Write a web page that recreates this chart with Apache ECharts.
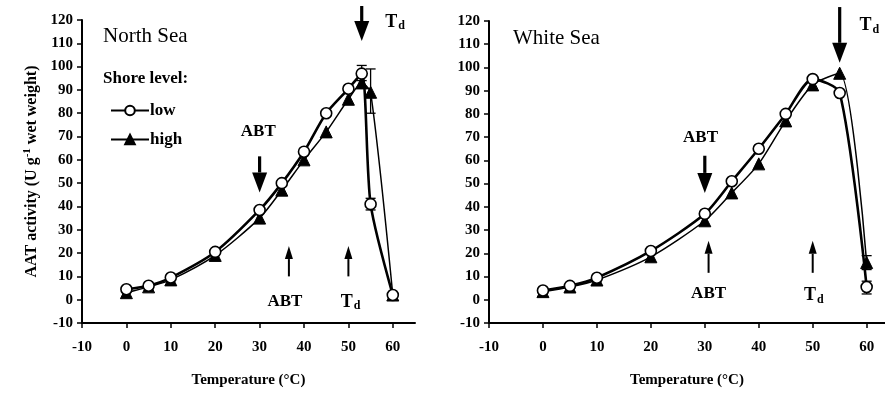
<!DOCTYPE html>
<html>
<head>
<meta charset="utf-8">
<script src="https://cdn.jsdelivr.net/npm/echarts@6/dist/echarts.min.js"></script>
<style>
  html, body { margin: 0; padding: 0; background: #fff; }
  #chart { width: 885px; height: 393px; }
</style>
</head>
<body>
<div id="chart"></div>
<script>
// 温度点 (°C)
var tempsNorth = [0, 5, 10, 20, 30, 35, 40, 45, 50, 53, 55, 60];
var tempsWhite = [0, 5, 10, 20, 30, 35, 40, 45, 50, 55, 60];
// AAT activity, U g-1 wet weight
var northLow  = [4.5, 6, 9.5, 20.5, 38.5, 50, 63.5, 80, 90.5, 97, 41, 2];
var northHigh = [3, 5.5, 8.5, 19, 35, 47, 60, 72, 86, 93, 89, 2];
var whiteLow  = [4, 6, 9.5, 21, 37, 51, 65, 80, 95, 89, 5.5];
var whiteHigh = [3.5, 5.5, 8.5, 18.5, 34, 46, 58.5, 77, 92.5, 97.5, 16];
// error bars [x, low, high]
var northErr = [[53, 94, 100.5], [55, 80, 99], [55, 38.5, 43.5]];
var whiteErr = [[60, 2.5, 8], [60, 13, 19]];
// arrows [x, fromY, toY, big?]
var northArrows = [[30, 61.5, 46, 1], [53, 126, 111, 1], [36.6, 10, 23, 0], [50, 10, 23, 0]];
var whiteArrows = [[30, 62, 46, 1], [55, 126, 102, 1], [30.7, 11.6, 25.4, 0], [50, 11.6, 25.4, 0]];
// labels [x, y, text]
var northLabels = [[29.7, 72, 'ABT'], [60.5, 119, 'Td'], [35.7, -1, 'ABT'], [50.5, -1, 'Td']];
var whiteLabels = [[29.2, 70, 'ABT'], [60.5, 118, 'Td'], [30.7, 2.6, 'ABT'], [50.2, 1.7, 'Td']];

var FONT = '"Liberation Serif", "Times New Roman", serif';
var chart = echarts.init(document.getElementById('chart'));

function pairs(xs, ys) {
  return xs.map(function (x, i) { return [x, ys[i]]; });
}

function xAxisOpt(idx, max) {
  return {
    gridIndex: idx, type: 'value', min: -10, max: max, interval: 10,
    name: 'Temperature (°C)', nameLocation: 'middle', nameGap: 50,
    nameTextStyle: { fontFamily: FONT, fontWeight: 'bold', fontSize: 15, color: '#000' },
    axisLine: { onZero: false, lineStyle: { color: '#000', width: 2 } },
    axisTick: { show: true, length: 5, lineStyle: { color: '#000', width: 1.5 } },
    axisLabel: { showMaxLabel: false, margin: 17, fontFamily: FONT, fontWeight: 'bold', fontSize: 15, color: '#000' },
    splitLine: { show: false }
  };
}

function yAxisOpt(idx, withName) {
  return {
    gridIndex: idx, type: 'value', min: -10, max: 120, interval: 10,
    name: withName ? '{n|AAT activity (U g}{s|-1}{n| wet weight)}' : '',
    nameLocation: 'middle', nameRotate: 90, nameGap: 40,
    nameTextStyle: {
      rich: {
        n: { fontFamily: FONT, fontWeight: 'bold', fontSize: 16, color: '#000' },
        s: { fontFamily: FONT, fontWeight: 'bold', fontSize: 11, color: '#000', verticalAlign: 'top', padding: [0, 0, 9, 0] }
      }
    },
    axisLine: { onZero: false, lineStyle: { color: '#000', width: 2 } },
    axisTick: { show: true, length: 5, lineStyle: { color: '#000', width: 1.5 } },
    axisLabel: { margin: 9, fontFamily: FONT, fontWeight: 'bold', fontSize: 15, color: '#000' },
    splitLine: { show: false }
  };
}

function lowSeries(idx, data) {
  return {
    name: 'low', type: 'line', xAxisIndex: idx, yAxisIndex: idx, data: data,
    smooth: 0.25, z: 4,
    symbol: 'circle', symbolSize: 11,
    lineStyle: { color: '#000', width: 2.6 },
    itemStyle: { color: '#fff', borderColor: '#000', borderWidth: 1.6 }
  };
}

function highSeries(idx, data) {
  return {
    name: 'high', type: 'line', xAxisIndex: idx, yAxisIndex: idx, data: data,
    smooth: 0.25, z: 3,
    symbol: 'triangle', symbolSize: 12,
    lineStyle: { color: '#000', width: 1.5 },
    itemStyle: { color: '#000', borderColor: '#000', borderWidth: 1 }
  };
}

function errSeries(idx, data) {
  return {
    type: 'custom', xAxisIndex: idx, yAxisIndex: idx, data: data, z: 2, clip: false,
    renderItem: function (params, api) {
      var p0 = api.coord([api.value(0), api.value(1)]);
      var p1 = api.coord([api.value(0), api.value(2)]);
      var w = 5;
      return {
        type: 'group',
        children: [
          { type: 'line', shape: { x1: p0[0], y1: p0[1], x2: p1[0], y2: p1[1] }, style: { stroke: '#000', lineWidth: 1.3 } },
          { type: 'line', shape: { x1: p0[0] - w, y1: p0[1], x2: p0[0] + w, y2: p0[1] }, style: { stroke: '#000', lineWidth: 1.3 } },
          { type: 'line', shape: { x1: p1[0] - w, y1: p1[1], x2: p1[0] + w, y2: p1[1] }, style: { stroke: '#000', lineWidth: 1.3 } }
        ]
      };
    }
  };
}

function arrowSeries(idx, data) {
  return {
    type: 'custom', xAxisIndex: idx, yAxisIndex: idx, data: data, z: 5, clip: false,
    renderItem: function (params, api) {
      var p0 = api.coord([api.value(0), api.value(1)]);
      var p1 = api.coord([api.value(0), api.value(2)]);
      var big = api.value(3) === 1;
      var hw = big ? 7.5 : 4;
      var hl = big ? 20 : 13;
      var sw = big ? 3.2 : 2;
      var dir = p1[1] > p0[1] ? 1 : -1;
      var base = p1[1] - dir * hl;
      return {
        type: 'group',
        children: [
          { type: 'line', shape: { x1: p0[0], y1: p0[1], x2: p0[0], y2: base }, style: { stroke: '#000', lineWidth: sw } },
          { type: 'polygon', shape: { points: [[p1[0] - hw, base], [p1[0] + hw, base], [p1[0], p1[1]]] }, style: { fill: '#000' } }
        ]
      };
    }
  };
}

function labelSeries(idx, data) {
  return {
    type: 'custom', xAxisIndex: idx, yAxisIndex: idx, data: data, z: 5, clip: false,
    renderItem: function (params, api) {
      var d = data[params.dataIndex];
      var p = api.coord([d[0], d[1]]);
      var txt = d[2] === 'Td' ? '{t|T}{d|d}' : '{a|ABT}';
      return {
        type: 'text', x: p[0], y: p[1],
        style: {
          text: txt, align: 'center', verticalAlign: 'middle',
          rich: {
            t: { fontFamily: FONT, fontWeight: 'bold', fontSize: 18, color: '#000' },
            d: { fontFamily: FONT, fontWeight: 'bold', fontSize: 12, color: '#000', verticalAlign: 'bottom', padding: [8, 0, 0, 1] },
            a: { fontFamily: FONT, fontWeight: 'bold', fontSize: 17, color: '#000' }
          }
        }
      };
    }
  };
}

chart.setOption({
  backgroundColor: '#fff',
  animation: false,
  grid: [
    { left: 82, right: 470, top: 20, bottom: 68 },
    { left: 489, right: 0, top: 21, bottom: 70 }
  ],
  xAxis: [xAxisOpt(0, 65), xAxisOpt(1, 63.4)],
  yAxis: [yAxisOpt(0, true), yAxisOpt(1, false)],
  legend: {
    data: ['low', 'high'], orient: 'vertical', left: 105, top: 97,
    itemWidth: 38, itemHeight: 12, itemGap: 12,
    textStyle: { fontFamily: FONT, fontWeight: 'bold', fontSize: 17, color: '#000', padding: [0, 0, 0, -4] },
    selectedMode: false
  },
  graphic: [
    { type: 'text', left: 103, top: 26, style: { text: 'North Sea', fontFamily: FONT, fontSize: 21, fill: '#000' } },
    { type: 'text', left: 513, top: 28, style: { text: 'White Sea', fontFamily: FONT, fontSize: 21, fill: '#000' } },
    { type: 'text', left: 103, top: 70, style: { text: 'Shore level:', fontFamily: FONT, fontWeight: 'bold', fontSize: 17, fill: '#000' } }
  ],
  series: [
    errSeries(0, northErr),
    highSeries(0, pairs(tempsNorth, northHigh)),
    lowSeries(0, pairs(tempsNorth, northLow)),
    arrowSeries(0, northArrows),
    labelSeries(0, northLabels),
    errSeries(1, whiteErr),
    highSeries(1, pairs(tempsWhite, whiteHigh)),
    lowSeries(1, pairs(tempsWhite, whiteLow)),
    arrowSeries(1, whiteArrows),
    labelSeries(1, whiteLabels)
  ]
});
</script>
</body>
</html>
